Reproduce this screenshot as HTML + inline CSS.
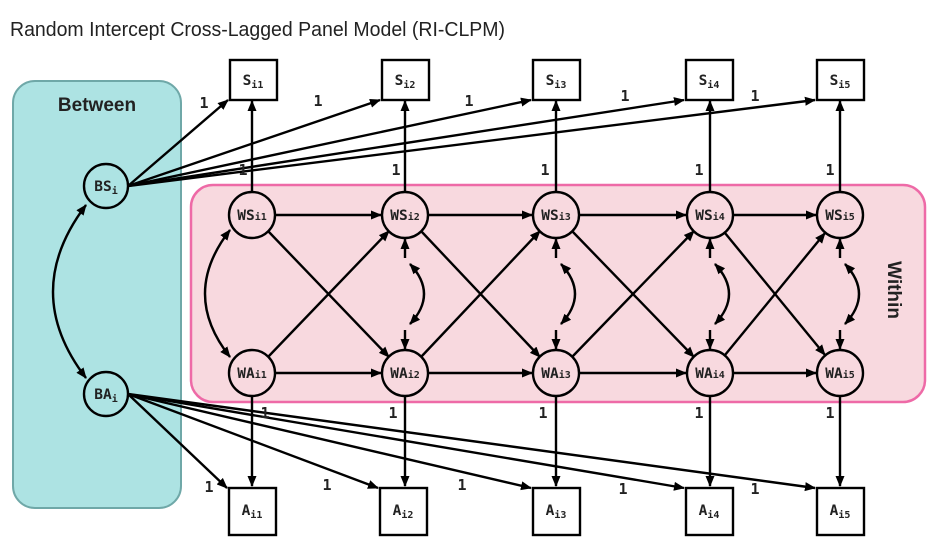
<!DOCTYPE html>
<html><head><meta charset="utf-8"><style>
html,body{margin:0;padding:0;background:#fff;}
svg{display:block;}
.n{font-family:"DejaVu Sans Mono","Liberation Mono",monospace;font-size:14.5px;fill:#222;font-weight:bold;}
.s{font-size:10px;}
.l{font-family:"DejaVu Sans Mono","Liberation Mono",monospace;font-size:15px;font-weight:bold;fill:#222;}
</style></head><body>
<svg width="940" height="545" viewBox="0 0 940 545" xmlns="http://www.w3.org/2000/svg">
<defs>
<marker id="a" markerWidth="12" markerHeight="12" refX="10" refY="5.5" orient="auto-start-reverse" markerUnits="userSpaceOnUse"><path d="M0,1 L11,5.5 L0,10 Z" fill="#000"/></marker>
</defs>
<text x="10" y="36" font-family="Liberation Sans, sans-serif" font-size="20" fill="#222" textLength="495" lengthAdjust="spacingAndGlyphs">Random Intercept Cross-Lagged Panel Model (RI-CLPM)</text>
<rect x="13" y="81" width="168" height="427" rx="22" fill="#ade3e3" stroke="#6fa8a8" stroke-width="2"/>
<text x="97" y="111" text-anchor="middle" font-family="Liberation Sans, sans-serif" font-size="19" font-weight="bold" fill="#222">Between</text>
<rect x="191" y="185" width="734" height="217" rx="22" fill="#f8d9df" stroke="#ee6aa7" stroke-width="2.5"/>
<text transform="translate(888,290) rotate(90)" text-anchor="middle" font-family="Liberation Sans, sans-serif" font-size="19" font-weight="bold" fill="#222">Within</text>
<g stroke="#000" stroke-width="2.4" fill="none">
<line x1="128" y1="186" x2="228" y2="100" marker-end="url(#a)"/>
<line x1="128" y1="186" x2="380" y2="100" marker-end="url(#a)"/>
<line x1="128" y1="186" x2="531" y2="100" marker-end="url(#a)"/>
<line x1="128" y1="186" x2="684" y2="100" marker-end="url(#a)"/>
<line x1="128" y1="186" x2="815" y2="100" marker-end="url(#a)"/>
<line x1="128" y1="394" x2="227" y2="488" marker-end="url(#a)"/>
<line x1="128" y1="394" x2="378" y2="488" marker-end="url(#a)"/>
<line x1="128" y1="394" x2="531" y2="488" marker-end="url(#a)"/>
<line x1="128" y1="394" x2="684" y2="488" marker-end="url(#a)"/>
<line x1="128" y1="394" x2="815" y2="488" marker-end="url(#a)"/>
<path d="M86,205 Q20,292 86,378" marker-start="url(#a)" marker-end="url(#a)"/>
<line x1="252" y1="192" x2="252" y2="101" marker-end="url(#a)"/>
<line x1="405" y1="192" x2="405" y2="101" marker-end="url(#a)"/>
<line x1="556" y1="192" x2="556" y2="101" marker-end="url(#a)"/>
<line x1="710" y1="192" x2="710" y2="101" marker-end="url(#a)"/>
<line x1="840" y1="192" x2="840" y2="101" marker-end="url(#a)"/>
<line x1="252" y1="396" x2="252" y2="486" marker-end="url(#a)"/>
<line x1="405" y1="396" x2="405" y2="486" marker-end="url(#a)"/>
<line x1="556" y1="396" x2="556" y2="486" marker-end="url(#a)"/>
<line x1="710" y1="396" x2="710" y2="486" marker-end="url(#a)"/>
<line x1="840" y1="396" x2="840" y2="486" marker-end="url(#a)"/>
<line x1="275" y1="215" x2="381" y2="215" marker-end="url(#a)"/>
<line x1="428" y1="215" x2="532" y2="215" marker-end="url(#a)"/>
<line x1="579" y1="215" x2="686" y2="215" marker-end="url(#a)"/>
<line x1="733" y1="215" x2="816" y2="215" marker-end="url(#a)"/>
<line x1="275" y1="373" x2="381" y2="373" marker-end="url(#a)"/>
<line x1="428" y1="373" x2="532" y2="373" marker-end="url(#a)"/>
<line x1="579" y1="373" x2="686" y2="373" marker-end="url(#a)"/>
<line x1="733" y1="373" x2="816" y2="373" marker-end="url(#a)"/>
<line x1="268" y1="231" x2="389" y2="357" marker-end="url(#a)"/>
<line x1="268" y1="357" x2="389" y2="231" marker-end="url(#a)"/>
<line x1="421" y1="231" x2="540" y2="357" marker-end="url(#a)"/>
<line x1="421" y1="357" x2="540" y2="231" marker-end="url(#a)"/>
<line x1="572" y1="231" x2="694" y2="357" marker-end="url(#a)"/>
<line x1="572" y1="357" x2="694" y2="231" marker-end="url(#a)"/>
<line x1="725" y1="233" x2="825" y2="355" marker-end="url(#a)"/>
<line x1="725" y1="355" x2="825" y2="233" marker-end="url(#a)"/>
<path d="M230,230 Q180,294 230,357" marker-start="url(#a)" marker-end="url(#a)"/>
<g id="r">
<line x1="405" y1="258" x2="405" y2="239" marker-end="url(#a)"/>
<line x1="405" y1="330" x2="405" y2="349" marker-end="url(#a)"/>
<path d="M410,264 Q438,294 410,324" marker-start="url(#a)" marker-end="url(#a)"/>
</g>
<use href="#r" x="151"/>
<use href="#r" x="305"/>
<use href="#r" x="435"/>
</g>
<g fill="#ade3e3" stroke="#000" stroke-width="2.4">
<circle cx="106" cy="186" r="22"/>
<circle cx="106" cy="394" r="22"/>
</g>
<g fill="#f8d9df" stroke="#000" stroke-width="2.4">
<circle cx="252" cy="215" r="23"/><circle cx="405" cy="215" r="23"/><circle cx="556" cy="215" r="23"/><circle cx="710" cy="215" r="23"/><circle cx="840" cy="215" r="23"/>
<circle cx="252" cy="373" r="23"/><circle cx="405" cy="373" r="23"/><circle cx="556" cy="373" r="23"/><circle cx="710" cy="373" r="23"/><circle cx="840" cy="373" r="23"/>
</g>
<g fill="#fff" stroke="#000" stroke-width="2.4">
<rect x="230" y="60" width="47" height="40"/><rect x="382" y="60" width="47" height="40"/><rect x="533" y="60" width="47" height="40"/><rect x="686" y="60" width="47" height="40"/><rect x="817" y="60" width="47" height="40"/>
<rect x="229" y="488" width="47" height="47"/><rect x="380" y="488" width="47" height="47"/><rect x="533" y="488" width="47" height="47"/><rect x="686" y="488" width="47" height="47"/><rect x="817" y="488" width="47" height="47"/>
</g>
<g class="n" text-anchor="middle">
<text x="106" y="191">BS<tspan class="s" dy="3">i</tspan></text>
<text x="106" y="399">BA<tspan class="s" dy="3">i</tspan></text>
<text x="252" y="220">WS<tspan class="s">i1</tspan></text>
<text x="405" y="220">WS<tspan class="s">i2</tspan></text>
<text x="556" y="220">WS<tspan class="s">i3</tspan></text>
<text x="710" y="220">WS<tspan class="s">i4</tspan></text>
<text x="840" y="220">WS<tspan class="s">i5</tspan></text>
<text x="252" y="378">WA<tspan class="s">i1</tspan></text>
<text x="405" y="378">WA<tspan class="s">i2</tspan></text>
<text x="556" y="378">WA<tspan class="s">i3</tspan></text>
<text x="710" y="378">WA<tspan class="s">i4</tspan></text>
<text x="840" y="378">WA<tspan class="s">i5</tspan></text>
<text x="253" y="85">S<tspan class="s" dy="3">i1</tspan></text>
<text x="405" y="85">S<tspan class="s" dy="3">i2</tspan></text>
<text x="556" y="85">S<tspan class="s" dy="3">i3</tspan></text>
<text x="709" y="85">S<tspan class="s" dy="3">i4</tspan></text>
<text x="840" y="85">S<tspan class="s" dy="3">i5</tspan></text>
<text x="252" y="515">A<tspan class="s" dy="3">i1</tspan></text>
<text x="403" y="515">A<tspan class="s" dy="3">i2</tspan></text>
<text x="556" y="515">A<tspan class="s" dy="3">i3</tspan></text>
<text x="709" y="515">A<tspan class="s" dy="3">i4</tspan></text>
<text x="840" y="515">A<tspan class="s" dy="3">i5</tspan></text>
</g>
<g class="l" text-anchor="middle">
<text x="204" y="108">1</text><text x="318" y="106">1</text><text x="469" y="106">1</text><text x="625" y="101">1</text><text x="755" y="101">1</text>
<text x="243" y="175">1</text><text x="396" y="175">1</text><text x="545" y="175">1</text><text x="699" y="175">1</text><text x="830" y="175">1</text>
<text x="265" y="418">1</text><text x="393" y="418">1</text><text x="543" y="418">1</text><text x="699" y="418">1</text><text x="830" y="418">1</text>
<text x="209" y="492">1</text><text x="327" y="490">1</text><text x="462" y="490">1</text><text x="623" y="494">1</text><text x="755" y="494">1</text>
</g>
</svg>
</body></html>
